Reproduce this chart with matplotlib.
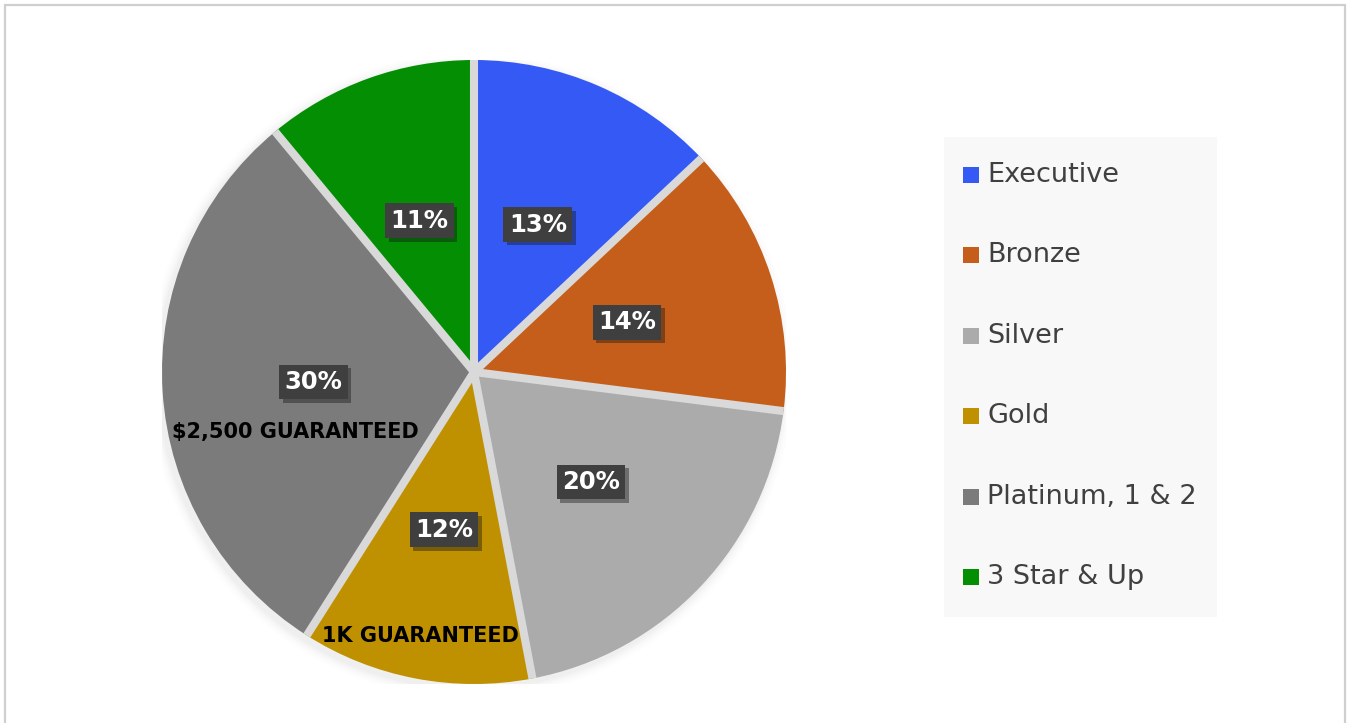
import matplotlib
matplotlib.use("Agg")
import matplotlib.pyplot as plt
import matplotlib.patheffects as pe
from matplotlib.patches import Rectangle
import numpy as np

plt.rcParams["font.family"] = ["DejaVu Sans"]

categories = ["Executive", "Bronze", "Silver", "Gold", "Platinum, 1 & 2", "3 Star & Up"]
values = [13, 14, 20, 12, 30, 11]
colors = ["#3459F5", "#C55E1A", "#ABABAB", "#BF9000", "#7B7B7B", "#048E04"]
notes = ["$2,500 GUARANTEED", "1K GUARANTEED"]

W, H = 1348, 723
fig = plt.figure(figsize=(W / 100, H / 100), dpi=100)
fig.patch.set_facecolor("white")

# outer frame
fig.patches.append(Rectangle((5 / W, -0.02), 1340 / W, (H - 5) / H + 0.02,
                             transform=fig.transFigure, fill=False,
                             edgecolor="#cfcfcf", linewidth=1.6, zorder=0))

cx, cy, R = 474, H - 372, 312
ax = fig.add_axes([(cx - R) / W, (cy - R) / H, 2 * R / W, 2 * R / H])
ax.set_aspect("equal")
ax.axis("off")

# soft shadow
for i, a in enumerate(np.linspace(0.05, 0.01, 6)):
    c = plt.Circle((-0.01, -0.012), 1.0 + 0.006 * (i + 1), color="black",
                   alpha=a * 0.35, zorder=0, linewidth=0)
    ax.add_patch(c)

wedges, texts, autotexts = ax.pie(
    values, colors=colors, startangle=90, counterclock=False,
    radius=1.0, autopct=lambda p: f"{p:.0f}%", pctdistance=0.515,
    wedgeprops=dict(edgecolor="none", linewidth=0),
    textprops=dict(color="white", fontsize=17.5, fontweight="bold"),
    frame=False)
ax.set_xlim(-1, 1)
ax.set_ylim(-1, 1)

# separator lines between slices
bounds = 90 - np.cumsum([0] + values[:-1]) / sum(values) * 360
for b in bounds:
    t = np.deg2rad(b)
    ax.plot([0, np.cos(t)], [0, np.sin(t)], color="#D9D9D9", lw=5.8,
            solid_capstyle="butt", zorder=5)

for t in autotexts:
    t.set_zorder(10)
    t.set_bbox(dict(boxstyle="square,pad=0.22", facecolor="#3F3F3F",
                    edgecolor="none"))
    t.get_bbox_patch().set_path_effects(
        [pe.SimplePatchShadow(offset=(2.5, -2.5), alpha=0.4), pe.Normal()])

ax.text(-0.571, -0.192, notes[0], ha="center", va="center", fontsize=15,
        fontweight="bold", color="black", zorder=10)
ax.text(-0.173, -0.846, notes[1], ha="center", va="center", fontsize=15,
        fontweight="bold", color="black", zorder=10)

# legend
fig.patches.append(Rectangle((944 / W, 1 - 617 / H), (1217 - 944) / W, (617 - 137) / H,
                             transform=fig.transFigure, facecolor="#F8F8F8",
                             edgecolor="none", zorder=1))
y0, dy = 175, 80.4
for i, (lab, col) in enumerate(zip(categories, colors)):
    y = y0 + i * dy
    fig.patches.append(Rectangle((963 / W, 1 - (y + 8) / H), 16 / W, 16 / H,
                                 transform=fig.transFigure, facecolor=col,
                                 edgecolor="none", zorder=2))
    fig.text(987 / W, 1 - y / H, lab, ha="left", va="center", fontsize=19.5,
             color="#404040", zorder=3)

fig.savefig("out.png", dpi=100)
